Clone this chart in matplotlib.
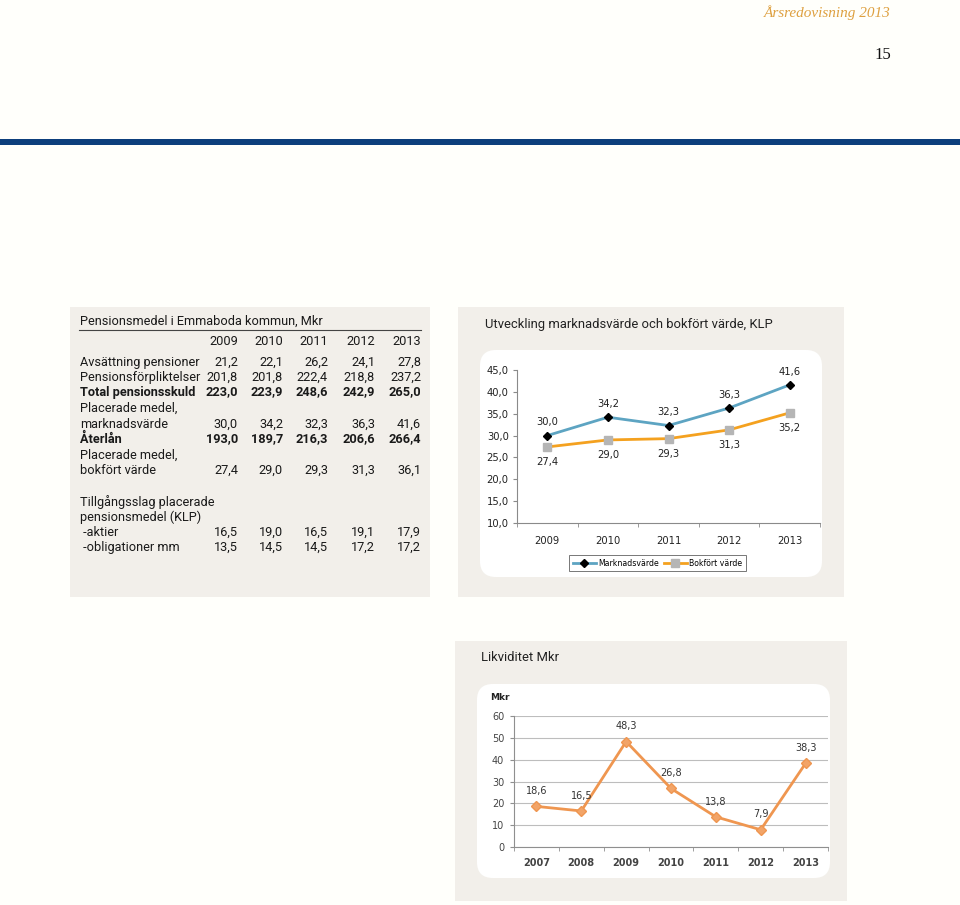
import matplotlib
matplotlib.use("Agg")
import matplotlib.pyplot as plt
from matplotlib.patches import Rectangle, FancyBboxPatch
from matplotlib.lines import Line2D

W, H = 960, 905

# ---------------- data ----------------
table_title = "Pensionsmedel i Emmaboda kommun, Mkr"
table_years = ["2009", "2010", "2011", "2012", "2013"]
row_avsattning = ["21,2", "22,1", "26,2", "24,1", "27,8"]
row_forpliktelser = ["201,8", "201,8", "222,4", "218,8", "237,2"]
row_total = ["223,0", "223,9", "248,6", "242,9", "265,0"]
row_marknad = ["30,0", "34,2", "32,3", "36,3", "41,6"]
row_aterlan = ["193,0", "189,7", "216,3", "206,6", "266,4"]
row_bokfort = ["27,4", "29,0", "29,3", "31,3", "36,1"]
row_aktier = ["16,5", "19,0", "16,5", "19,1", "17,9"]
row_oblig = ["13,5", "14,5", "14,5", "17,2", "17,2"]

klp_title = "Utveckling marknadsvärde och bokfört värde, KLP"
klp_years = ["2009", "2010", "2011", "2012", "2013"]
klp_marknad = [30.0, 34.2, 32.3, 36.3, 41.6]
klp_bokfort = [27.4, 29.0, 29.3, 31.3, 35.2]
klp_series_names = ["Marknadsvärde", "Bokfört värde"]

liq_title = "Likviditet Mkr"
liq_years = ["2007", "2008", "2009", "2010", "2011", "2012", "2013"]
liq_values = [18.6, 16.5, 48.3, 26.8, 13.8, 7.9, 38.3]

header_text = "Årsredovisning 2013"
page_number = "15"

# ---------------- figure ----------------
plt.rcParams["font.family"] = ["DejaVu Sans"]
TFONT = ["Roboto", "DejaVu Sans"]
fig = plt.figure(figsize=(W / 100, H / 100), dpi=100)
fig.patch.set_facecolor("#fffffb")

bg = fig.add_axes([0, 0, 1, 1])
bg.set_xlim(0, W)
bg.set_ylim(H, 0)
bg.axis("off")


def rect(x0, y0, x1, y1):
    return [x0 / W, 1 - y1 / H, (x1 - x0) / W, (y1 - y0) / H]


def fmt(v):
    return f"{v:.1f}".replace(".", ",")


# header
bg.text(891, 13, header_text, ha="right", va="center", fontsize=11,
        family="Liberation Serif", style="italic", color="#dea040")
bg.text(891, 55, page_number, ha="right", va="center", fontsize=12,
        family="Liberation Serif", color="#111111")
bg.add_patch(Rectangle((0, 139.5), W, 5.5, color="#0d3f7c", lw=0))

panel_col = "#f2efea"
bg.add_patch(Rectangle((70, 307), 360, 290, color=panel_col, lw=0))
bg.add_patch(Rectangle((458, 307), 386, 290, color=panel_col, lw=0))
bg.add_patch(Rectangle((455, 641), 392, 260, color=panel_col, lw=0))
bg.add_patch(FancyBboxPatch((480, 350), 342, 227,
                            boxstyle="round,pad=0,rounding_size=16",
                            fc="white", ec="none"))
bg.add_patch(FancyBboxPatch((477, 684), 353, 194,
                            boxstyle="round,pad=0,rounding_size=16",
                            fc="white", ec="none"))

# ---------------- table ----------------
tfs = 9.2
tcol = "#1a1a1a"
col_x = [238, 283, 328, 375, 421]
bg.text(80, 321, table_title, fontsize=tfs, color=tcol, va="center",
        ha="left", family=TFONT)
bg.plot([79, 421], [330, 330], color="#444444", lw=0.8)
for x, y in zip(col_x, table_years):
    bg.text(x, 341, y, fontsize=tfs, color=tcol, va="center", ha="right",
            family=TFONT)

rows = [
    (362, "Avsättning pensioner", row_avsattning, "normal"),
    (377, "Pensionsförpliktelser", row_forpliktelser, "normal"),
    (392, "Total pensionsskuld", row_total, "bold"),
    (408, "Placerade medel,", None, "normal"),
    (424, "marknadsvärde", row_marknad, "normal"),
    (439, "Återlån", row_aterlan, "bold"),
    (455, "Placerade medel,", None, "normal"),
    (470, "bokfört värde", row_bokfort, "normal"),
    (502, "Tillgångsslag placerade", None, "normal"),
    (517, "pensionsmedel (KLP)", None, "normal"),
    (532, " -aktier", row_aktier, "normal"),
    (547, " -obligationer mm", row_oblig, "normal"),
]
for y, lab, vals, wt in rows:
    bg.text(80, y, lab, fontsize=tfs, color=tcol, va="center", ha="left",
            fontweight=wt, family=TFONT)
    if vals:
        for x, v in zip(col_x, vals):
            bg.text(x, y, v, fontsize=tfs, color=tcol, va="center",
                    ha="right", fontweight=wt, family=TFONT)

# ---------------- KLP chart ----------------
bg.text(485, 324, klp_title, fontsize=9.4, color="#222222", va="center",
        ha="left", family=TFONT)
ax1 = fig.add_axes(rect(517, 370, 820, 523))
ax1.patch.set_alpha(0)
xs = list(range(len(klp_years)))
ax1.set_xlim(-0.5, len(klp_years) - 0.5)
ax1.set_ylim(10, 45)
for s in ["top", "right"]:
    ax1.spines[s].set_visible(False)
for s in ["left", "bottom"]:
    ax1.spines[s].set_color("#8a8a8a")
    ax1.spines[s].set_linewidth(0.8)
yt = [10, 15, 20, 25, 30, 35, 40, 45]
ax1.set_yticks(yt)
ax1.set_yticklabels([fmt(v) for v in yt], fontsize=7.2, color="#222222")
ax1.set_xticks(xs)
ax1.set_xticklabels(klp_years, fontsize=7.2, color="#222222")
ax1.set_xticks([i - 0.5 for i in range(len(klp_years) + 1)], minor=True)
ax1.tick_params(axis="x", which="major", length=0, pad=9)
ax1.tick_params(axis="x", which="minor", length=3, color="#8a8a8a")
ax1.tick_params(axis="y", length=3, color="#8a8a8a", pad=3)

mcol = "#5da4c2"
bcol = "#f4a11f"
ax1.plot(xs, klp_marknad, color=mcol, lw=2, marker="D", ms=4.5,
         mfc="black", mec="black", zorder=3)
ax1.plot(xs, klp_bokfort, color=bcol, lw=2, marker="s", ms=6,
         mfc="#b5b5b5", mec="#b5b5b5", zorder=3)
for x, v in zip(xs, klp_marknad):
    ax1.annotate(fmt(v), (x, v), xytext=(0, 9.5), textcoords="offset points",
                 ha="center", va="center", fontsize=7.2, color="#222222")
for x, v in zip(xs, klp_bokfort):
    ax1.annotate(fmt(v), (x, v), xytext=(0, -11), textcoords="offset points",
                 ha="center", va="center", fontsize=7.2, color="#222222")

handles = [
    Line2D([], [], color=mcol, lw=2, marker="D", ms=4, mfc="black",
           mec="black"),
    Line2D([], [], color=bcol, lw=2, marker="s", ms=5.5, mfc="#b5b5b5",
           mec="#b5b5b5"),
]
leg = ax1.legend(handles, klp_series_names, loc="center",
                 bbox_to_anchor=(657.5 / W, 1 - 563 / H),
                 bbox_transform=fig.transFigure, ncol=2, frameon=True,
                 fancybox=False, edgecolor="#555555", fontsize=5.6,
                 handlelength=3.0, handletextpad=0.3, columnspacing=0.6,
                 borderpad=0.45)
leg.get_frame().set_linewidth(0.7)

# ---------------- Likviditet chart ----------------
bg.text(481, 657, liq_title, fontsize=9.4, color="#222222", va="center",
        ha="left", family=TFONT)
bg.text(490, 697, "Mkr", fontsize=6.5, color="#222222", va="center",
        ha="left", fontweight="bold")
ax2 = fig.add_axes(rect(514, 716, 828, 847))
ax2.patch.set_alpha(0)
lx = list(range(len(liq_years)))
ax2.set_xlim(-0.5, len(liq_years) - 0.5)
ax2.set_ylim(0, 60)
for s in ["top", "right"]:
    ax2.spines[s].set_visible(False)
for s in ["left", "bottom"]:
    ax2.spines[s].set_color("#8f8f8f")
    ax2.spines[s].set_linewidth(0.8)
ax2.set_yticks(range(0, 61, 10))
ax2.set_yticklabels([str(v) for v in range(0, 61, 10)], fontsize=7,
                    color="#444444")
ax2.yaxis.grid(True, color="#bdbdbd", lw=0.8)
ax2.set_axisbelow(True)
ax2.set_xticks(lx)
ax2.set_xticklabels(liq_years, fontsize=7, color="#444444",
                    fontweight="bold")
ax2.set_xticks([i - 0.5 for i in range(len(liq_years) + 1)], minor=True)
ax2.tick_params(axis="x", which="major", length=0, pad=8)
ax2.tick_params(axis="x", which="minor", length=3, color="#8f8f8f")
ax2.tick_params(axis="y", length=3, color="#8f8f8f", pad=4)

lcol = "#ef9650"
ax2.plot(lx, liq_values, color=lcol, lw=2, marker="D", ms=5, mfc="#f2a468",
         mec=lcol, zorder=3)
for x, v in zip(lx, liq_values):
    ax2.annotate(fmt(v), (x, v), xytext=(0, 11), textcoords="offset points",
                 ha="center", va="center", fontsize=7, color="#333333")

fig.savefig("out.png", dpi=100, facecolor=fig.get_facecolor())
